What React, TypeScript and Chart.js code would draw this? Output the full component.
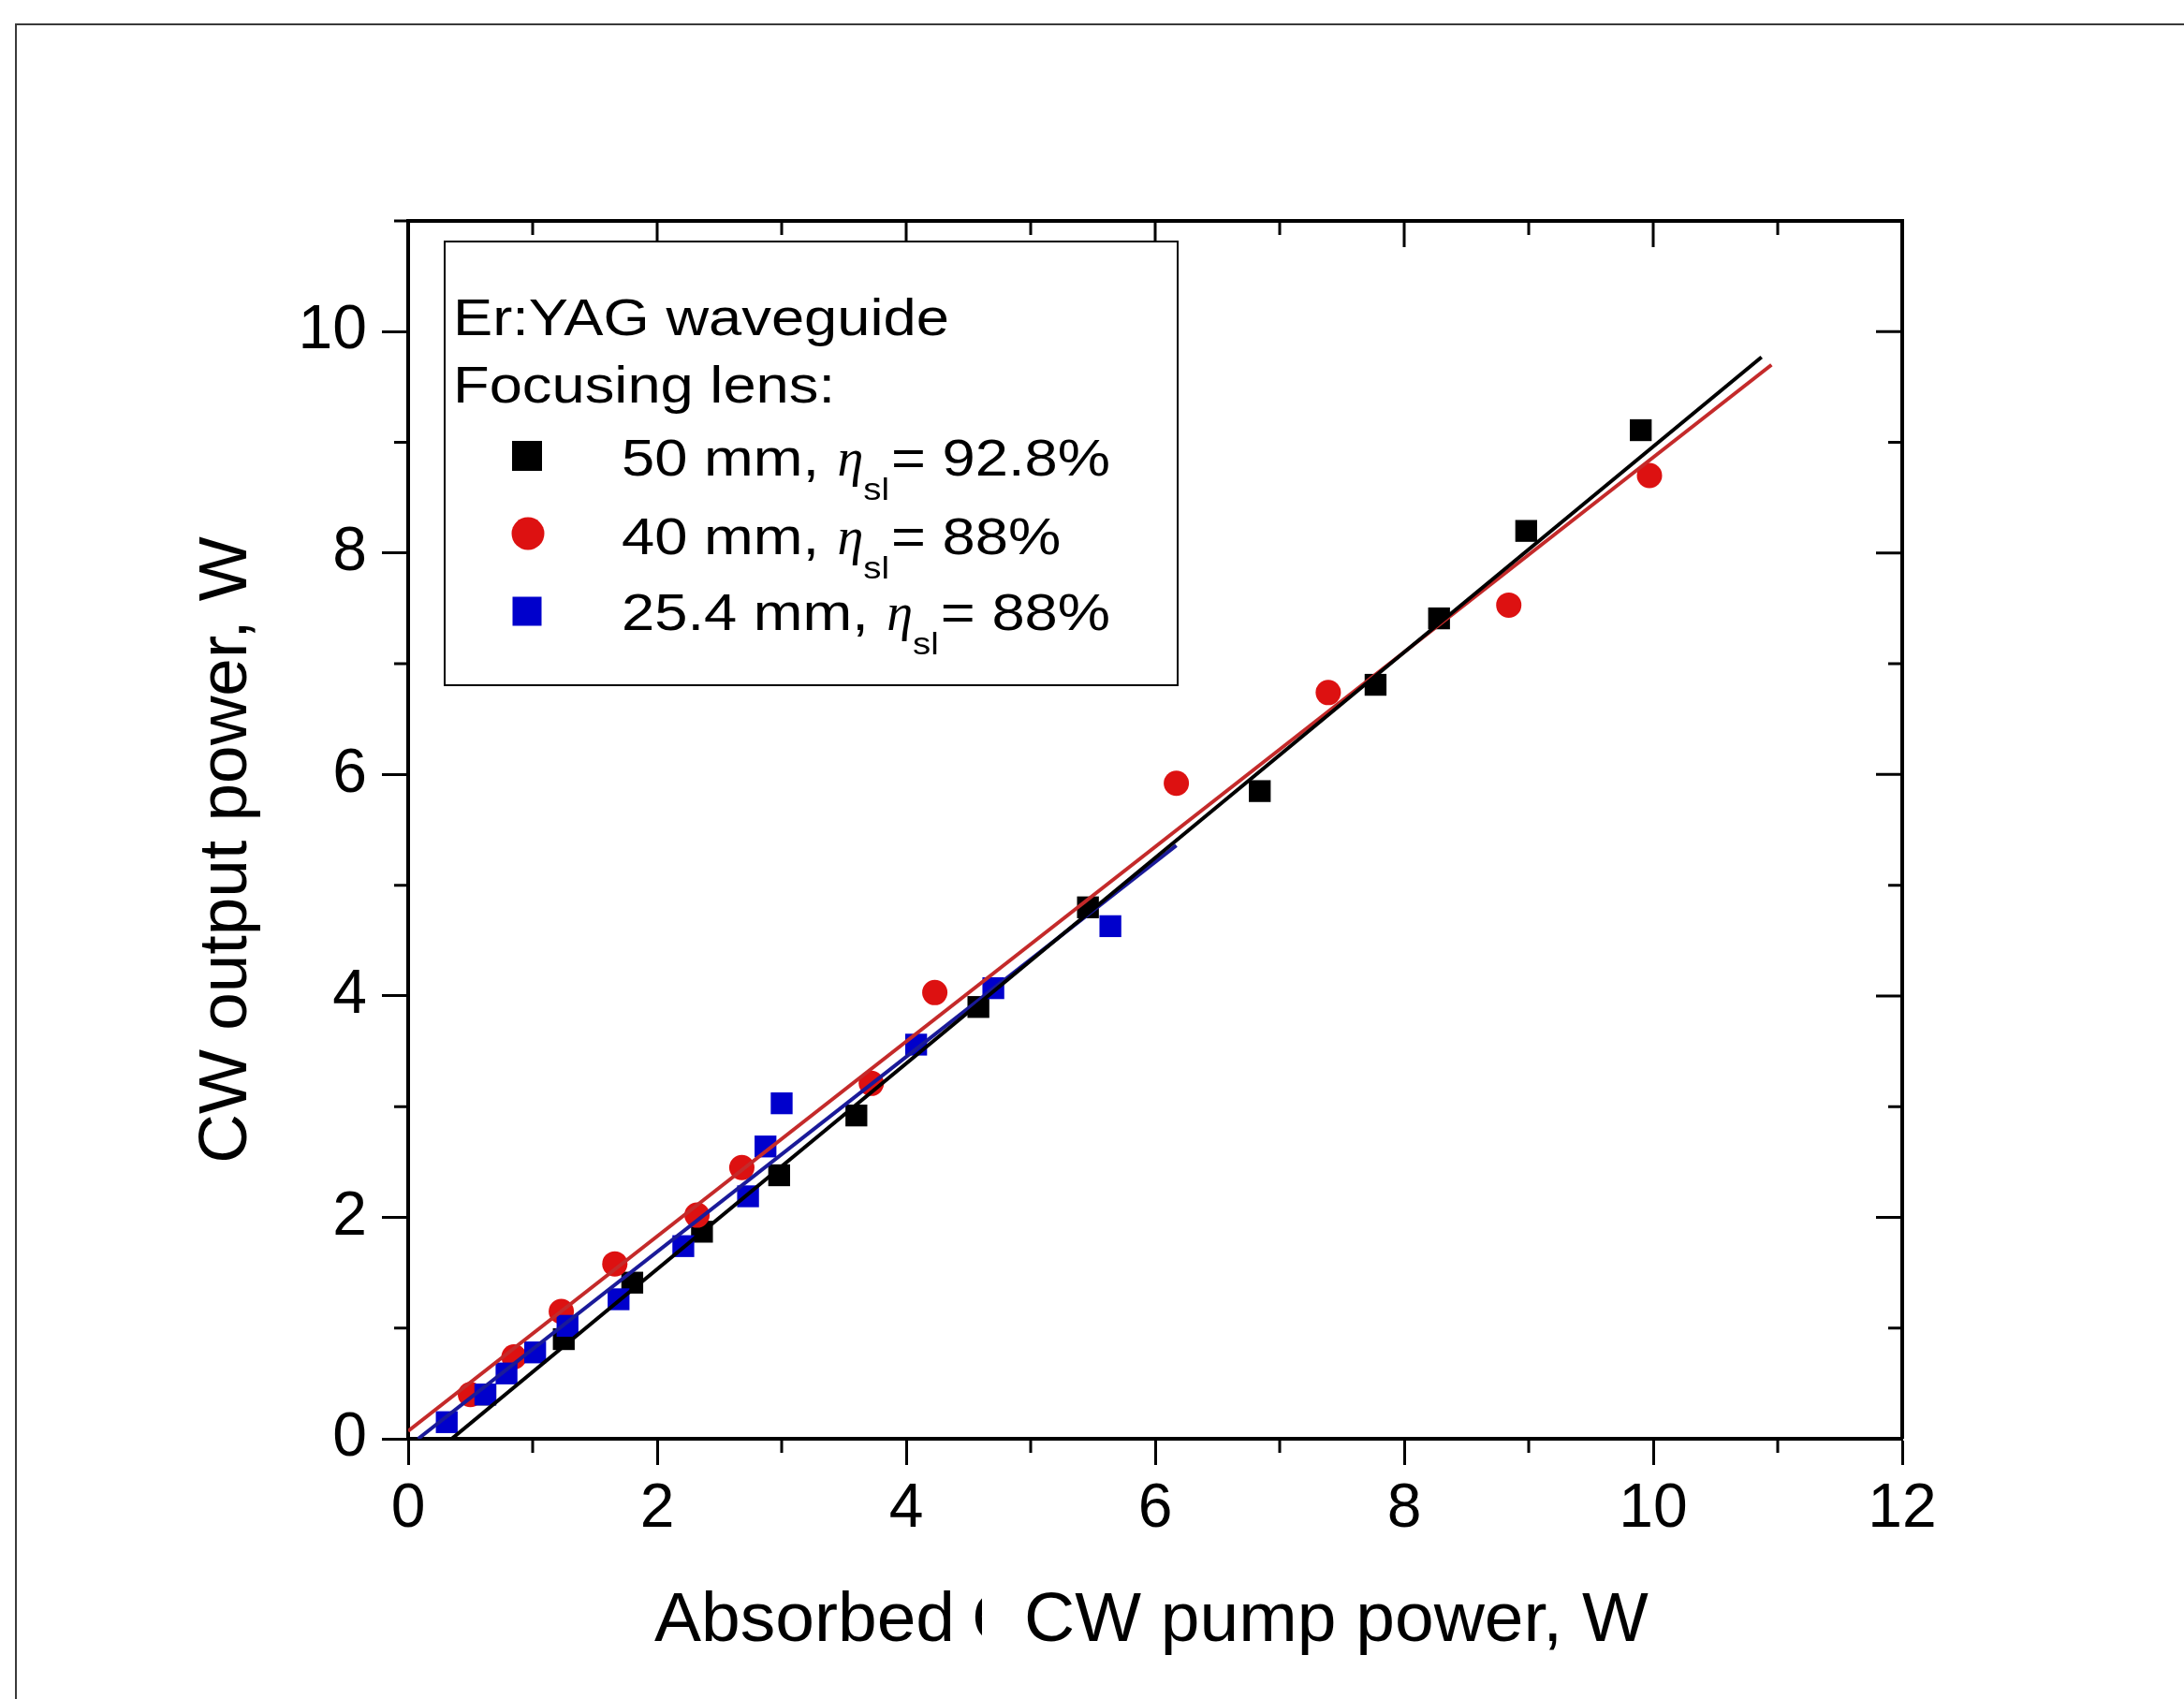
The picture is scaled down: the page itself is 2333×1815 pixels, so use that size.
import React, { useEffect, useRef } from 'react';
import { Chart, registerables } from 'chart.js';

Chart.register(...registerables);

// ---- axis ticks ----
const xTickValues = [0, 2, 4, 6, 8, 10, 12];
const yTickValues = [0, 2, 4, 6, 8, 10];
const xMinorValues = [1, 3, 5, 7, 9, 11];
const yMinorValues = [1, 3, 5, 7, 9, 11];

// ---- data: 50 mm lens (black squares) ----
const lens50X = [0.62, 1.25, 1.80, 2.36, 2.98, 3.60, 4.58, 5.46, 6.84, 7.77, 8.28, 8.98, 9.90];
const lens50Y = [0.40, 0.90, 1.41, 1.87, 2.38, 2.92, 3.90, 4.80, 5.85, 6.81, 7.41, 8.20, 9.11];

// ---- data: 40 mm lens (red circles) ----
const lens40X = [0.50, 0.85, 1.23, 1.66, 2.32, 2.68, 3.72, 4.23, 6.17, 7.39, 8.84, 9.97];
const lens40Y = [0.40, 0.74, 1.15, 1.58, 2.02, 2.45, 3.21, 4.03, 5.92, 6.74, 7.53, 8.70];

// ---- data: 25.4 mm lens (blue squares) ----
const lens25X = [0.31, 0.62, 0.79, 1.02, 1.28, 1.69, 2.21, 2.73, 2.87, 3.00, 4.08, 4.70, 5.64];
const lens25Y = [0.15, 0.40, 0.59, 0.78, 1.02, 1.26, 1.74, 2.19, 2.64, 3.03, 3.56, 4.07, 4.63];

// ---- linear fits ----
const fit50X = [0.35, 10.87];
const fit50Y = [0.0, 9.77];
const fit40X = [0.0, 10.95];
const fit40Y = [0.07, 9.70];
const fit25X = [0.08, 6.17];
const fit25Y = [0.0, 5.36];

// ---- texts ----
const legendHeader = ['Er:YAG waveguide', 'Focusing lens:'];
const legendLens = ['50 mm, ', '40 mm, ', '25.4 mm, '];
const legendEff = ['= 92.8%', '= 88%', '= 88%'];
const xTitleLeft = 'Absorbed';
const xTitleRight = 'CW pump power, W';
const yTitle = 'CW output power, W';

const W = 2333;
const H = 1815;
const SANS = '"Liberation Sans", Arial, sans-serif';
const SERIF = '"Liberation Serif", "DejaVu Serif", serif';

const toPts = (xs: number[], ys: number[]) => xs.map((x, i) => ({ x, y: ys[i] }));

function scaledText(ctx: CanvasRenderingContext2D, text: string, x: number, y: number, sx: number) {
  ctx.save();
  ctx.translate(x, y);
  ctx.scale(sx, 1);
  ctx.fillText(text, 0, 0);
  ctx.restore();
  return ctx.measureText(text).width * sx;
}

const decorPlugin = {
  id: 'decor',
  beforeDraw(chart: any) {
    const ctx = chart.ctx;
    ctx.save();
    ctx.fillStyle = '#fff';
    ctx.fillRect(0, 0, chart.width, chart.height);
    ctx.restore();
  },
  afterDraw(chart: any) {
    const ctx: CanvasRenderingContext2D = chart.ctx;
    const a = chart.chartArea;
    const xs = chart.scales.x;
    const ys = chart.scales.y;
    ctx.save();

    // outer frame
    ctx.strokeStyle = '#3a3a3a';
    ctx.lineWidth = 2;
    ctx.beginPath();
    ctx.moveTo(17, H);
    ctx.lineTo(17, 26);
    ctx.lineTo(W, 26);
    ctx.stroke();

    // top and right axes
    ctx.strokeStyle = '#000';
    ctx.lineWidth = 4;
    ctx.beginPath();
    ctx.moveTo(a.left - 2, a.top);
    ctx.lineTo(a.right + 2, a.top);
    ctx.moveTo(a.right, a.top);
    ctx.lineTo(a.right, a.bottom);
    ctx.stroke();

    // ticks
    ctx.lineWidth = 3;
    ctx.beginPath();
    xTickValues.forEach((v) => {
      const px = xs.getPixelForValue(v);
      ctx.moveTo(px, a.top);
      ctx.lineTo(px, a.top + 28);
    });
    xMinorValues.forEach((v) => {
      const px = xs.getPixelForValue(v);
      ctx.moveTo(px, a.bottom);
      ctx.lineTo(px, a.bottom + 15);
      ctx.moveTo(px, a.top);
      ctx.lineTo(px, a.top + 15);
    });
    yTickValues.forEach((v) => {
      const py = ys.getPixelForValue(v);
      ctx.moveTo(a.right, py);
      ctx.lineTo(a.right - 28, py);
    });
    yMinorValues.forEach((v) => {
      const py = ys.getPixelForValue(v);
      ctx.moveTo(a.left, py);
      ctx.lineTo(a.left - 15, py);
      ctx.moveTo(a.right, py);
      ctx.lineTo(a.right - 15, py);
    });
    ctx.stroke();

    // legend box
    ctx.fillStyle = '#fff';
    ctx.fillRect(475, 258, 783, 474);
    ctx.strokeStyle = '#000';
    ctx.lineWidth = 2;
    ctx.strokeRect(475, 258, 783, 474);

    const sx = 1.13;
    ctx.fillStyle = '#000';
    ctx.textBaseline = 'alphabetic';
    ctx.textAlign = 'left';
    ctx.font = `56px ${SANS}`;
    scaledText(ctx, legendHeader[0], 484, 358, sx);
    scaledText(ctx, legendHeader[1], 484, 430, sx);

    const baselines = [508, 592, 673];
    const markerY = [487, 570, 653];
    // markers
    ctx.fillStyle = '#000';
    ctx.fillRect(563 - 16, markerY[0] - 16, 32, 32);
    ctx.fillStyle = '#dd1111';
    ctx.beginPath();
    ctx.arc(564, markerY[1], 17.5, 0, Math.PI * 2);
    ctx.fill();
    ctx.fillStyle = '#0000cc';
    ctx.fillRect(563 - 15.5, markerY[2] - 15.5, 31, 31);

    ctx.fillStyle = '#000';
    legendLens.forEach((t, i) => {
      const by = baselines[i];
      let cx = 664;
      ctx.font = `56px ${SANS}`;
      cx += scaledText(ctx, t, cx, by, sx);
      ctx.font = `italic 56px ${SERIF}`;
      cx += scaledText(ctx, '\u03B7', cx + 2, by, 1.0) + 2;
      ctx.font = `34px ${SANS}`;
      cx += scaledText(ctx, 'sl', cx, by + 26, sx);
      ctx.font = `56px ${SANS}`;
      scaledText(ctx, legendEff[i], cx + 2, by, sx);
    });

    // x title
    ctx.font = `75px ${SANS}`;
    ctx.textAlign = 'left';
    ctx.fillText(xTitleLeft, 699, 1753);
    ctx.fillText(xTitleRight, 1094, 1753);
    ctx.save();
    ctx.beginPath();
    ctx.rect(1030, 1690, 19, 80);
    ctx.clip();
    ctx.fillText('C', 1038, 1753);
    ctx.restore();

    // y title
    ctx.save();
    ctx.translate(263, 908);
    ctx.rotate(-Math.PI / 2);
    ctx.font = `73px ${SANS}`;
    ctx.textAlign = 'center';
    ctx.fillText(yTitle, 0, 0);
    ctx.restore();

    ctx.restore();
  },
};

export default function App() {
  const ref = useRef<HTMLCanvasElement | null>(null);

  useEffect(() => {
    document.body.style.margin = '0';
    document.body.style.overflow = 'hidden';
    const canvas = ref.current;
    if (!canvas) return;

    const tickFont = { family: SANS, size: 66 };

    const chart = new Chart(canvas, {
      type: 'scatter',
      data: {
        datasets: [
          {
            label: 'fit 50 mm',
            data: toPts(fit50X, fit50Y),
            showLine: true,
            borderColor: '#000000',
            borderWidth: 4,
            pointRadius: 0,
            order: 0,
          },
          {
            label: 'fit 40 mm',
            data: toPts(fit40X, fit40Y),
            showLine: true,
            borderColor: '#c42a2a',
            borderWidth: 4,
            pointRadius: 0,
            order: 0,
          },
          {
            label: 'fit 25.4 mm',
            data: toPts(fit25X, fit25Y),
            showLine: true,
            borderColor: '#1a1a99',
            borderWidth: 4,
            pointRadius: 0,
            order: 0,
          },
          {
            label: '25.4 mm',
            data: toPts(lens25X, lens25Y),
            pointStyle: 'rect',
            pointRadius: 16.5,
            backgroundColor: '#0000cc',
            borderWidth: 0,
            order: 1,
          },
          {
            label: '40 mm',
            data: toPts(lens40X, lens40Y),
            pointStyle: 'circle',
            pointRadius: 13.5,
            backgroundColor: '#dd1111',
            borderWidth: 0,
            order: 2,
          },
          {
            label: '50 mm',
            data: toPts(lens50X, lens50Y),
            pointStyle: 'rect',
            pointRadius: 16.5,
            backgroundColor: '#000000',
            borderWidth: 0,
            order: 3,
          },
        ],
      },
      options: {
        responsive: false,
        animation: false,
        devicePixelRatio: 1,
        layout: { padding: { top: 236, right: 301, bottom: 0, left: 0 } },
        plugins: {
          legend: { display: false },
          tooltip: { enabled: false },
        },
        scales: {
          x: {
            type: 'linear',
            min: 0,
            max: 12,
            afterFit: (s: any) => {
              s.height = 278;
            },
            afterBuildTicks: (s: any) => {
              s.ticks = xTickValues.map((v) => ({ value: v }));
            },
            ticks: {
              font: tickFont,
              color: '#000',
              padding: 8,
              maxRotation: 0,
              autoSkip: false,
            },
            grid: {
              display: true,
              drawOnChartArea: false,
              drawTicks: true,
              tickLength: 28,
              tickWidth: 3,
              tickColor: '#000',
              color: '#000',
            },
            border: { display: true, color: '#000', width: 4 },
          },
          y: {
            type: 'linear',
            min: 0,
            max: 11,
            afterFit: (s: any) => {
              s.width = 436;
            },
            afterBuildTicks: (s: any) => {
              s.ticks = yTickValues.map((v) => ({ value: v }));
            },
            ticks: {
              font: tickFont,
              color: '#000',
              padding: 16,
              autoSkip: false,
            },
            grid: {
              display: true,
              drawOnChartArea: false,
              drawTicks: true,
              tickLength: 28,
              tickWidth: 3,
              tickColor: '#000',
              color: '#000',
            },
            border: { display: true, color: '#000', width: 4 },
          },
        },
      },
      plugins: [decorPlugin],
    } as any);

    return () => {
      chart.destroy();
    };
  }, []);

  return (
    <div style={{ width: W, height: H, background: '#fff' }}>
      <canvas ref={ref} width={W} height={H} style={{ display: 'block', width: W, height: H }} />
    </div>
  );
}
